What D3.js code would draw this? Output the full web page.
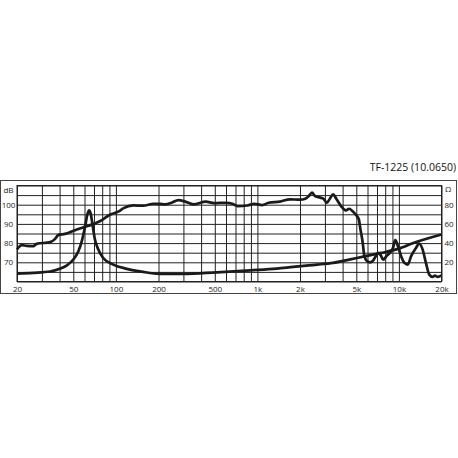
<!DOCTYPE html>
<html>
<head>
<meta charset="utf-8">
<script src="https://cdn.jsdelivr.net/npm/d3@7"></script>
<style>
  body { margin: 0; background: #fff; }
  svg text { font-family: "Open Sans", sans-serif; fill: #222; }
</style>
</head>
<body>
<div id="chart"></div>
<script>
// frequency response (dB)
const splFreq = [20, 21.6, 23.4, 26.1, 27.5, 34.3, 37.2, 39.3, 43.7, 53, 63.9, 77, 90.8, 104.7, 113.4, 132.6, 156, 184, 205,
  224, 247, 277, 309, 354, 432, 494, 600, 667, 724, 851, 947, 1080, 1200, 1440, 1700, 2000, 2180, 2310, 2430, 2560, 2780,
  2930, 3090, 3250, 3430, 3610, 3900, 4220, 4450, 4690, 4940, 5210, 5350, 5550, 5700, 5950, 6270, 6610, 6860, 7150, 7460,
  7740, 8170, 8620, 9080, 9430, 9850, 10370, 10950, 11550, 12200, 13200, 13930, 14700, 15520, 16390, 17310, 17990, 18800, 20000];
const splDb = [76.7, 78.9, 78.6, 78.4, 79.6, 80.5, 82.2, 84.3, 84.8, 87.1, 89.0, 91.4, 94.8, 96.5, 98.2, 99.6, 99.5, 100.5, 100.4,
  100.2, 101, 102.4, 101.6, 100.2, 101.6, 100.8, 101, 100.5, 99.3, 99.6, 100.5, 99.8, 101, 101.6, 102.8, 102.6, 103.1, 104.5, 106.3, 104.5, 103.7,
  103.1, 101, 103.1, 105.4, 103.1, 99.3, 97, 97.9, 96.7, 94.9, 92.3, 87.1, 80.2, 73.2, 70.6, 70, 71.1, 73.2, 74.9, 73.5,
  71.4, 73.2, 74.9, 77.5, 81.5, 78.4, 73.2, 69.7, 68.8, 73.2, 77.5, 79.8, 76.7, 69.7, 63.6, 62.4, 63.1, 62.4, 63.2];

// impedance (ohm)
const impFreq = [20, 26, 34.3, 40.1, 44.8, 50, 54.3, 57.4, 60.6, 62.9, 64.7, 66.5, 68.6, 71.1, 75.1, 81, 95.8, 119.4, 156, 205,
  298, 518, 889, 1370, 1790, 2310, 2650, 3430, 4450, 5800, 7530, 9850, 12800, 20000];
const impOhm = [8.2, 9, 10.4, 13.2, 16.6, 22.9, 31.5, 42, 57.6, 69.9, 74, 69.9, 57.6, 43.8, 33.3, 24.7, 17.6, 13.2, 10, 8.0,
  7.8, 9.6, 11.6, 13.4, 15.2, 16.8, 17.6, 19.4, 22.8, 26.4, 29.8, 34, 40.4, 49];

const freqGrid = [20, 30, 40, 50, 60, 70, 80, 90, 100, 200, 300, 400, 500, 600, 700, 800, 900,
  1000, 2000, 3000, 4000, 5000, 6000, 7000, 8000, 9000, 10000, 20000];
const freqLabels = [20, 50, 100, 200, 500, 1000, 2000, 5000, 10000, 20000];
const dbTicks = [70, 80, 90, 100];
const ohmTicks = [20, 40, 60, 80];

const W = 458, H = 458;
const plotL = 17, plotR = 441.5, plotT = 185.5, plotB = 281.5;

const svg = d3.select("#chart").append("svg")
  .attr("width", W).attr("height", H);

// outer frame
svg.append("rect")
  .attr("x", 0.5).attr("y", 180.5).attr("width", 456).attr("height", 113)
  .attr("fill", "none").attr("stroke", "#444").attr("stroke-width", 1);

svg.append("text")
  .attr("x", 456).attr("y", 170.5)
  .attr("text-anchor", "end")
  .style("font-size", "10.5px")
  .style("fill", "#111")
  .text("TF-1225 (10.0650)");

const x = d3.scaleLog().domain([20, 20000]).range([plotL, plotR]);
const yDb = d3.scaleLinear().domain([60, 110]).range([plotB, plotT]);
const yOhm = d3.scaleLinear().domain([0, 100]).range([plotB, plotT]);

// vertical grid
svg.append("g")
  .attr("transform", "translate(0," + plotB + ")")
  .call(d3.axisBottom(x).tickValues(freqGrid).tickSize(-(plotB - plotT)).tickFormat(""))
  .call(g => g.select(".domain").remove())
  .call(g => g.selectAll("line").attr("stroke", "#222").attr("stroke-width", 1));

// horizontal grid (every 5 dB)
svg.append("g")
  .attr("transform", "translate(" + plotL + ",0)")
  .call(d3.axisLeft(yDb).tickValues(d3.range(60, 111, 5)).tickSize(-(plotR - plotL)).tickFormat(""))
  .call(g => g.select(".domain").remove())
  .call(g => g.selectAll("line").attr("stroke", "#222").attr("stroke-width", 1));

svg.append("rect")
  .attr("x", plotL).attr("y", plotT).attr("width", plotR - plotL).attr("height", plotB - plotT)
  .attr("fill", "none").attr("stroke", "#222").attr("stroke-width", 1);

// x labels
svg.append("g")
  .attr("transform", "translate(0," + plotB + ")")
  .call(d3.axisBottom(x).tickValues(freqLabels).tickSize(0).tickPadding(5)
    .tickFormat(d => d >= 1000 ? (d / 1000) + "k" : d))
  .call(g => g.select(".domain").remove())
  .call(g => g.selectAll("text").style("font-size", "8px").style("font-family", "Open Sans, sans-serif").attr("fill", "#222"));

// left dB labels
svg.append("g")
  .selectAll("text").data(dbTicks).join("text")
  .attr("x", 8.5).attr("y", d => yDb(d) + 3)
  .attr("text-anchor", "middle").style("font-size", "8px")
  .text(d => d);
svg.append("text").attr("x", 8.5).attr("y", 193)
  .attr("text-anchor", "middle").style("font-size", "8px").text("dB");

// right ohm labels
svg.append("g")
  .selectAll("text").data(ohmTicks).join("text")
  .attr("x", 449).attr("y", d => yOhm(d) + 3)
  .attr("text-anchor", "middle").style("font-size", "8px")
  .text(d => d);
svg.append("text").attr("x", 448).attr("y", 192)
  .attr("text-anchor", "middle").style("font-size", "8px").text("Ω");

// curves
const splLine = d3.line()
  .x((d, i) => x(splFreq[i]))
  .y(d => yDb(d))
  .curve(d3.curveMonotoneX);

const impLine = d3.line()
  .x((d, i) => x(impFreq[i]))
  .y(d => yOhm(d))
  .curve(d3.curveMonotoneX);

svg.append("path")
  .attr("d", impLine(impOhm))
  .attr("fill", "none").attr("stroke", "#1a1a1a").attr("stroke-width", 2.7)
  .attr("stroke-linejoin", "round");

svg.append("path")
  .attr("d", splLine(splDb))
  .attr("fill", "none").attr("stroke", "#1a1a1a").attr("stroke-width", 2.7)
  .attr("stroke-linejoin", "round");
</script>
</body>
</html>
